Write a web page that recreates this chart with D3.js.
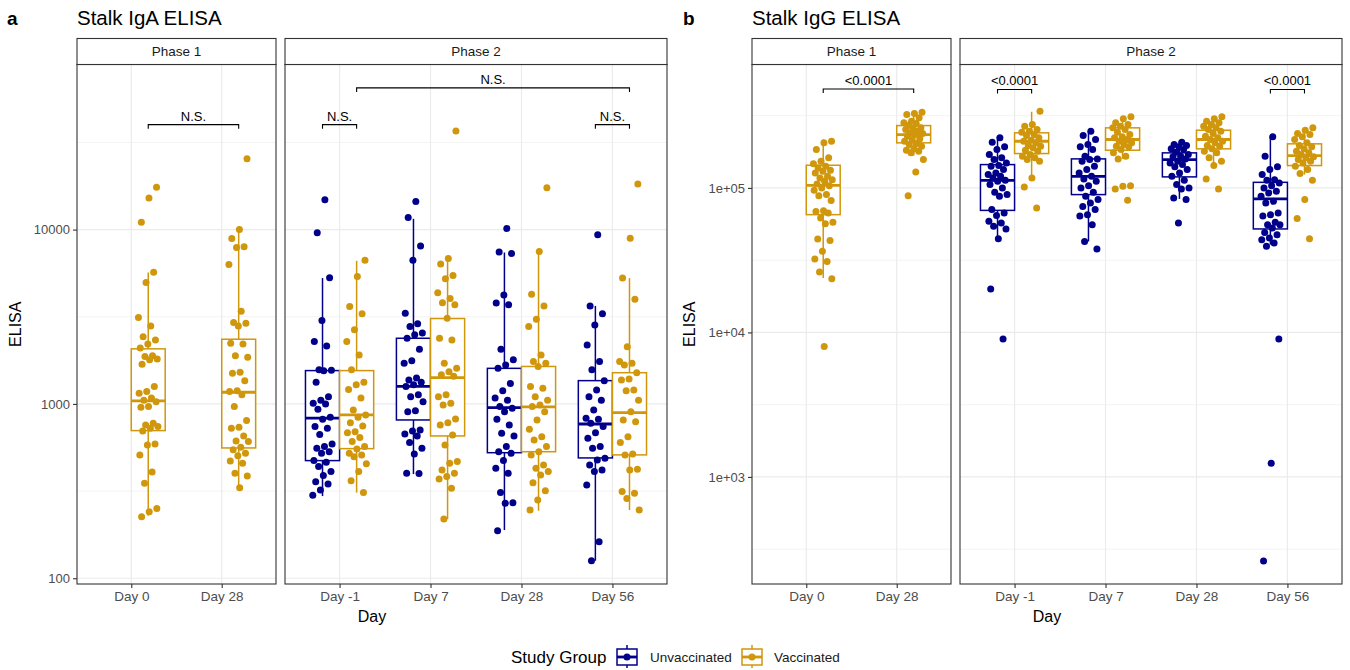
<!DOCTYPE html>
<html>
<head>
<meta charset="utf-8">
<script src="https://cdn.jsdelivr.net/npm/d3@7"></script>
<style>
  body { margin: 0; background: #fff; }
  svg { font-family: "Liberation Sans", Arial, sans-serif; }
</style>
</head>
<body>
<svg id="chart" width="1350" height="670"></svg>
<script>
// ---- categories ----
var groups = ["Unvaccinated", "Vaccinated"];
var groupColors = ["#00008B", "#D0970C"];
var phase1Days = ["Day 0", "Day 28"];
var phase2Days = ["Day -1", "Day 7", "Day 28", "Day 56"];

// ---- Stalk IgA ELISA (panel a) ----
var igaP1Day0Vac = [17500, 15200, 11000, 5700, 4970, 3130, 2800, 2430, 2330, 2210, 2090, 1890, 1870, 1810, 1790, 1690, 1260, 1180, 1150, 1080, 1050, 1030, 965, 957, 775, 757, 741, 726, 700, 589, 582, 510, 407, 351, 251, 241, 225];
var igaP1Day28Vac = [25500, 10000, 8890, 7970, 7900, 6300, 3400, 2930, 2900, 2800, 2230, 2210, 1890, 1850, 1520, 1500, 1360, 1190, 1180, 1130, 965, 802, 735, 726, 655, 613, 609, 564, 545, 521, 505, 471, 457, 400, 386, 331];
var igaP2DayM1Unv = [14830, 9590, 5290, 3010, 2280, 2150, 1570, 1560, 1550, 1330, 1100, 1050, 1010, 1000, 933, 839, 817, 741, 726, 667, 589, 569, 557, 532, 521, 473, 463, 437, 409, 388, 358, 347, 321, 299];
var igaP2DayM1Vac = [6680, 5380, 3620, 3290, 2660, 2280, 1910, 1570, 1330, 1290, 1210, 1080, 924, 865, 839, 781, 748, 693, 684, 641, 609, 569, 552, 521, 510, 498, 453, 409, 363, 310];
var igaP2Day7Unv = [14500, 11730, 8040, 6680, 3310, 2880, 2780, 2550, 2490, 2380, 2060, 1770, 1710, 1410, 1370, 1330, 1290, 1260, 1130, 1100, 1030, 915, 903, 709, 700, 673, 655, 600, 557, 516, 400, 399];
var igaP2Day7Vac = [36800, 6820, 6340, 5450, 5220, 4340, 4030, 3810, 3700, 3100, 2380, 2330, 1710, 1600, 1530, 1470, 1440, 1130, 1100, 1010, 987, 820, 781, 757, 664, 582, 467, 457, 418, 400, 383, 371, 328, 219];
var igaP2Day28Unv = [10150, 7430, 7290, 4210, 3790, 3700, 2060, 1790, 1670, 1600, 1310, 1190, 1080, 1050, 965, 944, 903, 817, 757, 679, 655, 569, 532, 521, 473, 428, 400, 310, 271, 269, 187];
var igaP2Day28Vac = [17380, 7490, 4260, 3650, 3060, 2780, 1910, 1750, 1710, 1640, 1260, 1230, 1100, 1050, 987, 965, 903, 809, 716, 649, 621, 569, 532, 510, 447, 428, 409, 391, 353, 318, 281, 246];
var igaP2Day56Unv = [9330, 3650, 3290, 2840, 2180, 1750, 1570, 1360, 1200, 1100, 1050, 924, 828, 817, 775, 741, 684, 635, 569, 557, 488, 477, 447, 418, 409, 343, 162, 126];
var igaP2Day56Vac = [18240, 8930, 5270, 3990, 2130, 1750, 1710, 1670, 1510, 1390, 1370, 1200, 1190, 1050, 903, 809, 791, 649, 600, 516, 510, 422, 418, 314, 307, 287, 246];

// box stats, same order as igaSets below
var igaBoxLow  = [228, 331, 296, 310, 396, 218, 189, 244, 126, 246];
var igaBoxQ1   = [703, 559, 473, 554, 809, 655, 525, 532, 490, 510];
var igaBoxMed  = [1040, 1167, 828, 865, 1260, 1416, 952, 961, 767, 891];
var igaBoxQ3   = [2070, 2350, 1553, 1553, 2380, 3090, 1600, 1640, 1360, 1510];
var igaBoxHigh = [5680, 10000, 5270, 6620, 11530, 6770, 7390, 7430, 3650, 5270];

// ---- Stalk IgG ELISA (panel b) ----
var iggP1Day0Vac = [210400, 205000, 184200, 161400, 152900, 146700, 141200, 137600, 132400, 130300, 127000, 120300, 117300, 114100, 111100, 106600, 103700, 100000, 96300, 89900, 88400, 81700, 69600, 68800, 67100, 61900, 57800, 56600, 44300, 43300, 36400, 32200, 31000, 26200, 23500, 7980];
var iggP1Day28Vac = [334000, 327300, 322100, 305500, 289500, 282000, 279000, 270000, 260400, 256400, 253500, 246700, 240500, 237900, 234000, 227800, 218600, 216300, 210400, 202800, 199600, 194200, 186300, 182300, 179400, 174800, 157100, 129100, 88400];
var iggP2DayM1Unv = [222000, 207000, 192300, 184200, 170200, 161400, 157100, 149000, 142800, 141200, 133900, 127000, 123700, 120300, 117300, 112900, 111100, 105400, 100000, 93200, 89900, 87500, 70800, 67100, 64300, 58700, 57200, 54200, 52000, 44500, 19950, 8990];
var iggP2DayM1Vac = [339600, 274600, 267300, 253500, 246700, 242800, 234000, 230300, 222000, 213800, 210400, 205000, 196500, 194200, 189400, 182300, 179400, 170200, 165600, 161400, 157100, 152900, 117300, 101600, 72700];
var iggP2Day7Unv = [246700, 230300, 216300, 199600, 192300, 184200, 165600, 158800, 157100, 152900, 141200, 133900, 127000, 120300, 115400, 111100, 103700, 100000, 93200, 87500, 83000, 78700, 74500, 70800, 65300, 63900, 55700, 42600, 37800];
var iggP2Day7Vac = [310500, 300800, 282000, 274600, 267300, 260400, 253500, 242800, 234000, 225600, 222000, 216300, 210400, 205000, 199600, 194200, 192300, 184200, 174800, 165600, 158800, 103700, 102600, 98400, 82000];
var iggP2Day28Unv = [207000, 199600, 196500, 192300, 186300, 184200, 176500, 170200, 165600, 164000, 158800, 152900, 149000, 145000, 139900, 133900, 127000, 120300, 112900, 105400, 100000, 98400, 85300, 83000, 57200];
var iggP2Day28Vac = [310500, 300800, 289500, 282000, 274600, 267300, 260400, 253500, 246700, 237900, 227800, 222000, 216300, 210400, 205000, 196500, 194200, 186300, 179400, 174800, 161400, 152900, 142800, 115400, 98400];
var iggP2Day56Unv = [225600, 165600, 139900, 133900, 123700, 114100, 112900, 108300, 103700, 100000, 94700, 92300, 87500, 80700, 78700, 67100, 65300, 63900, 57800, 55700, 55500, 52800, 49200, 47500, 45000, 43800, 41600, 39400, 8990, 1242, 262];
var iggP2Day56Vac = [260400, 250700, 237900, 234000, 225600, 216300, 205000, 196500, 192300, 186300, 179400, 174800, 170200, 164000, 161400, 157100, 152900, 149000, 141200, 133900, 125600, 112900, 83000, 61300, 44500];

var iggBoxLow  = [23800, 167400, 44500, 114100, 42600, 158800, 83900, 141200, 40500, 123700];
var iggBoxQ1   = [65300, 205000, 69900, 172900, 89900, 182300, 119200, 186300, 52000, 142800];
var iggBoxMed  = [104200, 234000, 112900, 210400, 120300, 216300, 157100, 216300, 83900, 167400];
var iggBoxQ3   = [143500, 270000, 145000, 240500, 158800, 260400, 174800, 250700, 109300, 201800];
var iggBoxHigh = [216200, 334000, 225600, 336500, 246700, 310500, 210400, 310500, 225600, 260400];

// significance brackets: [phase, dayA, groupA, dayB, groupB, y value, label]
var igaBrackets = [
    ["Phase 1", "Day 0", 1, "Day 28", 1, 40000, "N.S."],
    ["Phase 2", "Day -1", 0, "Day -1", 1, 40000, "N.S."],
    ["Phase 2", "Day 56", 0, "Day 56", 1, 40000, "N.S."],
    ["Phase 2", "Day -1", 1, "Day 56", 1, 65000, "N.S."]
];
var iggBrackets = [
    ["Phase 1", "Day 0", 1, "Day 28", 1, 483000, "<0.0001"],
    ["Phase 2", "Day -1", 0, "Day -1", 1, 480000, "<0.0001"],
    ["Phase 2", "Day 56", 0, "Day 56", 1, 480000, "<0.0001"]
];

function buildSets(sets, lo, q1, med, q3, hi) {
    return sets.map(function (s, i) {
        return {phase: s[0], day: s[1], group: s[2], values: s[3],
            lo: lo[i], q1: q1[i], med: med[i], q3: q3[i], hi: hi[i]};
    });
}

var igaSets = buildSets([
    ["Phase 1", "Day 0", 1, igaP1Day0Vac],
    ["Phase 1", "Day 28", 1, igaP1Day28Vac],
    ["Phase 2", "Day -1", 0, igaP2DayM1Unv],
    ["Phase 2", "Day -1", 1, igaP2DayM1Vac],
    ["Phase 2", "Day 7", 0, igaP2Day7Unv],
    ["Phase 2", "Day 7", 1, igaP2Day7Vac],
    ["Phase 2", "Day 28", 0, igaP2Day28Unv],
    ["Phase 2", "Day 28", 1, igaP2Day28Vac],
    ["Phase 2", "Day 56", 0, igaP2Day56Unv],
    ["Phase 2", "Day 56", 1, igaP2Day56Vac]
], igaBoxLow, igaBoxQ1, igaBoxMed, igaBoxQ3, igaBoxHigh);

var iggSets = buildSets([
    ["Phase 1", "Day 0", 1, iggP1Day0Vac],
    ["Phase 1", "Day 28", 1, iggP1Day28Vac],
    ["Phase 2", "Day -1", 0, iggP2DayM1Unv],
    ["Phase 2", "Day -1", 1, iggP2DayM1Vac],
    ["Phase 2", "Day 7", 0, iggP2Day7Unv],
    ["Phase 2", "Day 7", 1, iggP2Day7Vac],
    ["Phase 2", "Day 28", 0, iggP2Day28Unv],
    ["Phase 2", "Day 28", 1, iggP2Day28Vac],
    ["Phase 2", "Day 56", 0, iggP2Day56Unv],
    ["Phase 2", "Day 56", 1, iggP2Day56Vac]
], iggBoxLow, iggBoxQ1, iggBoxMed, iggBoxQ3, iggBoxHigh);

// ---- layout ----
var svg = d3.select("#chart");
var stripTop = 38.5, plotTop = 64.5, plotBottom = 584;
var gridCol = "#EBEBEB", frameCol = "#333333";
var fontFam = "Liberation Sans, Arial, sans-serif";

function drawPanel(cfg) {
    var g = svg.append("g");
    var y = d3.scaleLog().domain(cfg.yDomain).range([plotBottom, plotTop]);

    var facets = [
        {name: "Phase 1", days: phase1Days, x0: cfg.left, x1: cfg.left + 199},
        {name: "Phase 2", days: phase2Days, x0: cfg.left + 208, x1: cfg.left + 590}
    ];
    facets.forEach(function (f) {
        f.x = d3.scalePoint().domain(f.days).range([f.x0, f.x1]).padding(0.6);
    });
    var facetByName = {};
    facets.forEach(function (f) { facetByName[f.name] = f; });

    var posOf = function (phase, day, grp) {
        var f = facetByName[phase];
        var bw = f.x.step() * 0.375;
        return f.x(day) + (grp === 0 ? -bw / 2 : bw / 2);
    };

    // letter + title
    g.append("text").attr("x", cfg.letterX).attr("y", 25).attr("font-size", 19).attr("font-weight", "bold")
        .text(cfg.letter);
    g.append("text").attr("x", cfg.left).attr("y", 25).attr("font-size", 20.5).attr("fill", "#000")
        .text(cfg.title);

    facets.forEach(function (f) {
        var fg = g.append("g");
        // minor grid (half decades)
        fg.selectAll(".minor").data(cfg.minorTicks).enter().append("line")
            .attr("x1", f.x0).attr("x2", f.x1)
            .attr("y1", function (d) { return y(d); }).attr("y2", function (d) { return y(d); })
            .attr("stroke", gridCol).attr("stroke-width", 0.6);
        fg.selectAll(".major").data(cfg.yTicks).enter().append("line")
            .attr("x1", f.x0).attr("x2", f.x1)
            .attr("y1", function (d) { return y(d); }).attr("y2", function (d) { return y(d); })
            .attr("stroke", gridCol).attr("stroke-width", 1.2);
        fg.selectAll(".vgrid").data(f.days).enter().append("line")
            .attr("x1", function (d) { return f.x(d); }).attr("x2", function (d) { return f.x(d); })
            .attr("y1", plotTop).attr("y2", plotBottom)
            .attr("stroke", gridCol).attr("stroke-width", 1.2);

        var sets = cfg.sets.filter(function (s) { return s.phase === f.name; });
        var bw = f.x.step() * 0.375;

        // boxes
        sets.forEach(function (s) {
            var cx = posOf(s.phase, s.day, s.group);
            var col = groupColors[s.group];
            var bg = fg.append("g").attr("stroke", col).attr("fill", "none");
            bg.append("line").attr("x1", cx).attr("x2", cx).attr("y1", y(s.hi)).attr("y2", y(s.q3)).attr("stroke-width", 1.5);
            bg.append("line").attr("x1", cx).attr("x2", cx).attr("y1", y(s.q1)).attr("y2", y(s.lo)).attr("stroke-width", 1.5);
            bg.append("rect").attr("x", cx - bw / 2).attr("y", y(s.q3))
                .attr("width", bw).attr("height", y(s.q1) - y(s.q3)).attr("fill", "#fff").attr("stroke-width", 1.5);
            bg.append("line").attr("x1", cx - bw / 2).attr("x2", cx + bw / 2)
                .attr("y1", y(s.med)).attr("y2", y(s.med)).attr("stroke-width", 2.8);
        });

        // jittered points (deterministic low-discrepancy jitter)
        sets.forEach(function (s) {
            var cx = posOf(s.phase, s.day, s.group);
            var jw = f.x.step() * 0.11;
            fg.selectAll(null).data(s.values).enter().append("circle")
                .attr("cx", function (d, i) { return cx + (((i + 1) * 0.6180339887 + s.group * 0.3) % 1 - 0.5) * 2 * jw; })
                .attr("cy", function (d) { return y(d); })
                .attr("r", 3.5)
                .attr("fill", groupColors[s.group]);
        });

        // panel frame
        fg.append("rect").attr("x", f.x0).attr("y", plotTop).attr("width", f.x1 - f.x0)
            .attr("height", plotBottom - plotTop).attr("fill", "none").attr("stroke", frameCol).attr("stroke-width", 1.1);
        // strip
        fg.append("rect").attr("x", f.x0).attr("y", stripTop).attr("width", f.x1 - f.x0)
            .attr("height", plotTop - stripTop).attr("fill", "#fff").attr("stroke", frameCol).attr("stroke-width", 1.1);
        fg.append("text").attr("x", (f.x0 + f.x1) / 2).attr("y", (stripTop + plotTop) / 2 + 4.8)
            .attr("text-anchor", "middle").attr("font-size", 13.5).attr("fill", "#1A1A1A").text(f.name);

        // x axis
        var xa = fg.append("g").attr("transform", "translate(0," + plotBottom + ")")
            .call(d3.axisBottom(f.x).tickSize(4).tickPadding(3));
        xa.select(".domain").remove();
        xa.selectAll("line").attr("stroke", frameCol).attr("stroke-width", 1.1);
        xa.selectAll("text").attr("font-size", 13.5).attr("fill", "#4D4D4D").attr("font-family", fontFam);
    });

    // y axis
    var ya = g.append("g").attr("transform", "translate(" + cfg.left + ",0)")
        .call(d3.axisLeft(y).tickValues(cfg.yTicks).tickFormat(cfg.yFormat).tickSize(4).tickPadding(3));
    ya.select(".domain").remove();
    ya.selectAll("line").attr("stroke", frameCol).attr("stroke-width", 1.1);
    ya.selectAll("text").attr("font-size", 13).attr("fill", "#4D4D4D").attr("font-family", fontFam);

    // brackets
    cfg.brackets.forEach(function (b) {
        var xa1 = posOf(b[0], b[1], b[2]), xb1 = posOf(b[0], b[3], b[4]);
        var yy = y(b[5]);
        g.append("path")
            .attr("d", "M" + xa1 + "," + (yy + 4) + "V" + yy + "H" + xb1 + "V" + (yy + 4))
            .attr("fill", "none").attr("stroke", "#000").attr("stroke-width", 1.1);
        g.append("text").attr("x", (xa1 + xb1) / 2).attr("y", yy - 4)
            .attr("text-anchor", "middle").attr("font-size", 13).attr("fill", "#000").text(b[6]);
    });

    // axis titles
    g.append("text").attr("transform", "translate(" + cfg.yTitleX + "," + (plotTop + plotBottom) / 2 + ") rotate(-90)")
        .attr("text-anchor", "middle").attr("font-size", 16).text("ELISA");
    g.append("text").attr("x", (cfg.left + cfg.left + 590) / 2).attr("y", 622)
        .attr("text-anchor", "middle").attr("font-size", 16).text("Day");
}

drawPanel({
    letter: "a", letterX: 7, title: "Stalk IgA ELISA", left: 77, yTitleX: 21,
    yDomain: [Math.pow(10, 1.967), Math.pow(10, 4.947)],
    yTicks: [100, 1000, 10000], minorTicks: [316.2, 3162, 31623],
    yFormat: d3.format("d"), sets: igaSets, brackets: igaBrackets
});
drawPanel({
    letter: "b", letterX: 683, title: "Stalk IgG ELISA", left: 752, yTitleX: 695,
    yDomain: [Math.pow(10, 2.259), Math.pow(10, 5.854)],
    yTicks: [1000, 10000, 100000], minorTicks: [316.2, 3162, 31623, 316228],
    yFormat: function (d) { return d.toExponential(0).replace("e+", "e+0"); },
    sets: iggSets, brackets: iggBrackets
});

// ---- legend ----
var lg = svg.append("g");
lg.append("text").attr("x", 511).attr("y", 663).attr("font-size", 17).text("Study Group");
var keyX = [617, 742], labelX = [650, 774];
groups.forEach(function (name, i) {
    var kx = keyX[i], col = groupColors[i];
    var k = lg.append("g").attr("stroke", col).attr("fill", "none");
    k.append("line").attr("x1", kx + 10).attr("x2", kx + 10).attr("y1", 645).attr("y2", 668).attr("stroke-width", 1.5);
    k.append("rect").attr("x", kx).attr("y", 649).attr("width", 20).attr("height", 16).attr("fill", "#fff").attr("stroke-width", 1.5);
    k.append("line").attr("x1", kx).attr("x2", kx + 20).attr("y1", 657).attr("y2", 657).attr("stroke-width", 2.8);
    k.append("circle").attr("cx", kx + 10).attr("cy", 657).attr("r", 3.5).attr("fill", col).attr("stroke", "none");
    lg.append("text").attr("x", labelX[i]).attr("y", 662).attr("font-size", 13.5).attr("fill", "#1A1A1A").text(name);
});
</script>
</body>
</html>
